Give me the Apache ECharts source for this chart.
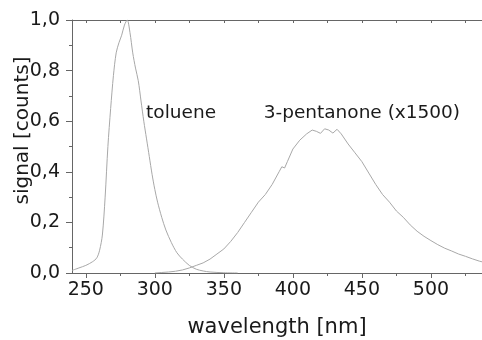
<!DOCTYPE html>
<html>
<head>
<meta charset="utf-8">
<script src="https://cdn.jsdelivr.net/npm/echarts@6/dist/echarts.min.js"></script>
<style>
html, body { margin: 0; padding: 0; background: #fff; }
#main { width: 482px; height: 340px; }
</style>
</head>
<body>
<div id="main"></div>
<script>
// toluene emission, normalised
var tolueneWl = [240, 245, 250, 255, 258, 260, 262, 264, 266, 268, 270, 272, 274, 276, 278, 280,
    282, 284, 286, 288, 290, 292, 294, 296, 298, 300, 302, 305, 308, 312, 316, 320, 325, 330, 335, 340, 350, 360];
var tolueneSig = [0.01, 0.02, 0.03, 0.045, 0.06, 0.09, 0.15, 0.3, 0.5, 0.65, 0.78, 0.87, 0.91, 0.94, 0.98, 1.0,
    0.95, 0.87, 0.81, 0.76, 0.68, 0.6, 0.53, 0.46, 0.39, 0.33, 0.28, 0.22, 0.17, 0.12, 0.08, 0.055, 0.03, 0.015, 0.008, 0.004, 0.001, 0];

// 3-pentanone emission (x1500)
var pentWl = [300, 305, 310, 315, 320, 325, 330, 335, 340, 345, 350, 355, 360, 365, 370, 375, 380, 385, 390, 392, 394, 396,
    400, 405, 410, 414, 417, 420, 423, 426, 429, 432, 435, 440, 445, 450, 455, 460, 465, 470, 475, 480, 485, 490, 495,
    500, 505, 510, 515, 520, 525, 530, 535, 540];
var pentSig = [0, 0.002, 0.004, 0.007, 0.012, 0.02, 0.03, 0.04, 0.055, 0.075, 0.095, 0.125, 0.16, 0.2, 0.24, 0.28, 0.31, 0.35, 0.4, 0.42, 0.415, 0.44,
    0.49, 0.525, 0.55, 0.565, 0.56, 0.552, 0.57, 0.565, 0.553, 0.568, 0.55, 0.51, 0.475, 0.44, 0.395, 0.35, 0.31, 0.28, 0.245, 0.22, 0.19, 0.165, 0.145,
    0.128, 0.112, 0.098, 0.087, 0.075, 0.066, 0.056, 0.047, 0.04];

// tick positions on the wavelength axis
var xMajor = [250, 300, 350, 400, 450, 500];
var xMinor = [275, 325, 375, 425, 475, 525];

var labels = [
    { text: 'toluene', at: [319, 0.63] },
    { text: '3-pentanone (x1500)', at: [450, 0.63] }
];

function pairs(xs, ys) {
    var out = [];
    xs.forEach(function (x, i) { out.push([x, ys[i]]); });
    return out;
}

var font = 'DejaVu Sans';
var axisColor = '#666';
var textColor = '#1a1a1a';
var xMin = 240, xMax = 537;

var myChart = echarts.init(document.getElementById('main'));
var option = {
    animation: false,
    grid: { left: 72, right: 0, top: 20, bottom: 67, outerBoundsMode: 'none' },
    xAxis: [
        {
            type: 'value', min: xMin, max: xMax,
            name: 'wavelength [nm]', nameLocation: 'middle', nameGap: 44,
            nameTextStyle: { fontFamily: font, fontSize: 21, color: textColor },
            axisLine: { lineStyle: { color: axisColor, width: 1 } },
            axisTick: { length: 5, customValues: xMajor, lineStyle: { color: axisColor } },
            axisLabel: { fontFamily: font, fontSize: 19, color: textColor, margin: 8, customValues: xMajor },
            splitLine: { show: false }
        },
        {
            // minor ticks underneath
            type: 'value', min: xMin, max: xMax, position: 'bottom',
            axisLine: { show: false },
            axisTick: { length: 3, customValues: xMinor, lineStyle: { color: axisColor } },
            axisLabel: { show: false },
            splitLine: { show: false }
        },
        {
            // top frame
            type: 'value', min: xMin, max: xMax, position: 'top',
            axisLine: { lineStyle: { color: axisColor, width: 1 } },
            axisTick: { inside: true, length: 3, customValues: xMajor.concat(xMinor), lineStyle: { color: axisColor } },
            axisLabel: { show: false },
            splitLine: { show: false }
        }
    ],
    yAxis: {
        type: 'value', min: 0, max: 1, interval: 0.2,
        name: 'signal [counts]', nameLocation: 'middle', nameGap: 39, nameMoveOverlap: false,
        nameTextStyle: { fontFamily: font, fontSize: 20, color: textColor, padding: [0, 0, 0, 32] },
        axisLine: { show: true, lineStyle: { color: axisColor, width: 1 } },
        axisTick: { show: true, length: 6, lineStyle: { color: axisColor } },
        minorTick: { show: true, splitNumber: 2, length: 3, lineStyle: { color: axisColor } },
        axisLabel: {
            fontFamily: font, fontSize: 19, color: textColor, margin: 12,
            formatter: function (v) { return v.toFixed(1).replace('.', ','); }
        },
        splitLine: { show: false }
    },
    series: [
        {
            name: 'toluene', type: 'line', showSymbol: false, smooth: 0.3,
            data: pairs(tolueneWl, tolueneSig),
            lineStyle: { color: '#a8a8a8', width: 1 },
            markPoint: {
                symbol: 'circle', symbolSize: 0, silent: true,
                label: { show: true, position: 'inside', fontFamily: font, fontSize: 18.5, color: textColor },
                data: labels.map(function (l) { return { coord: l.at, value: l.text }; })
            }
        },
        {
            name: '3-pentanone', type: 'line', showSymbol: false,
            data: pairs(pentWl, pentSig),
            lineStyle: { color: '#a8a8a8', width: 1 }
        }
    ]
};
myChart.setOption(option);
</script>
</body>
</html>
